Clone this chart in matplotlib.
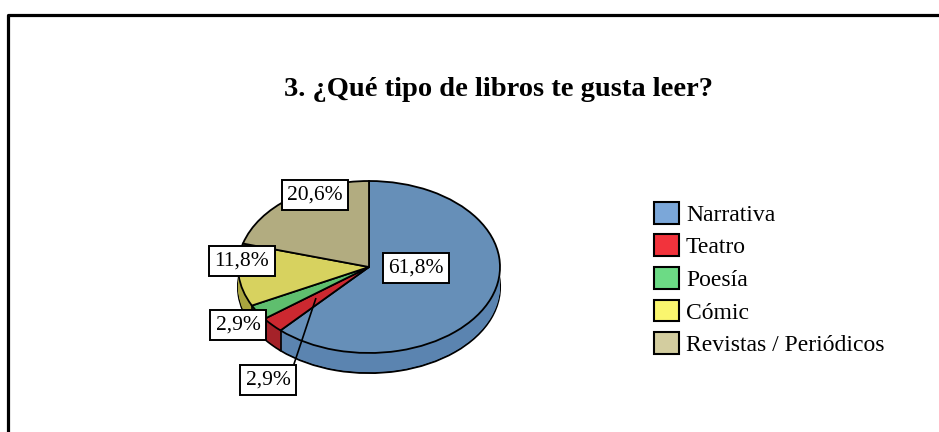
import numpy as np
import matplotlib.pyplot as plt
from matplotlib.lines import Line2D
from matplotlib.patches import Patch

plt.rcParams['font.family'] = ['Liberation Serif', 'DejaVu Serif']

categories = ['Narrativa', 'Teatro', 'Poesía', 'Cómic', 'Revistas / Periódicos']
values = [61.8, 2.9, 2.9, 11.8, 20.6]
labels = ['61,8%', '2,9%', '2,9%', '11,8%', '20,6%']

top_colors = ['#668FB8', '#CC2830', '#5FBE6E', '#D7D25F', '#B2AC80']
side_colors = ['#5B84B0', '#A52229', '#43984F', '#A9A43F', '#8E8964']
legend_colors = ['#7BA7D9', '#F2333C', '#6CDB85', '#FAF66E', '#D3CD9F']

W, H = 939, 432
cx, cy, rx, ry = 369, 267, 131, 86   # pie centre / radii in pixels
depth = 20 / ry


def px(x, y):
    # pixel position (top-left origin) -> pie data coords
    return (x - cx) / rx, (cy - y) / ry


fig = plt.figure(figsize=(W / 100, H / 100), dpi=100)
ax = fig.add_axes([0, 0, 1, 1])

# 3d side: stacked pies shifted down
ax.pie(values, colors=side_colors, startangle=90, counterclock=False,
       center=(0, -depth), wedgeprops=dict(edgecolor='black', linewidth=1.5))
for d in np.linspace(depth, 0, 25)[1:]:
    ax.pie(values, colors=side_colors, startangle=90, counterclock=False,
           center=(0, -d), wedgeprops=dict(linewidth=0))

# vertical edges of the side at slice borders
ang = np.deg2rad(90 - 360 * np.cumsum(values) / 100)
for a in ang:
    if np.sin(a) < 0:
        ax.plot([np.cos(a)] * 2, [np.sin(a), np.sin(a) - depth], color='black', lw=1.2)

# top face
ax.pie(values, colors=top_colors, startangle=90, counterclock=False,
       wedgeprops=dict(edgecolor='black', linewidth=1.3))

ax.set_aspect('auto')
ax.set_xlim(-cx / rx, (W - cx) / rx)
ax.set_ylim(-(H - cy) / ry, cy / ry)
ax.axis('off')

# data labels
label_pos = [(416, 268), (268, 380), (238, 325), (242, 261), (315, 195)]
box = dict(boxstyle='square,pad=0.25', fc='white', ec='black', lw=1.4)
for lab, (x, y) in zip(labels, label_pos):
    ax.text(*px(x, y), lab, ha='center', va='center', fontsize=15.5, bbox=box, zorder=10)

# leader line for Teatro
mid = np.deg2rad(90 - 360 * (values[0] + values[1] / 2) / 100)
ax.plot([px(293, 367)[0], 0.55 * np.cos(mid)], [px(293, 367)[1], 0.55 * np.sin(mid)],
        color='black', lw=1.2, zorder=9)

# title
fig.text(498 / W, 1 - 96 / H, '3. ¿Qué tipo de libros te gusta leer?',
         ha='center', va='baseline', fontsize=20.5, fontweight='bold')

# legend
handles = [Patch(facecolor=c, edgecolor='black', linewidth=1.5) for c in legend_colors]
fig.legend(handles, categories, loc='center left', bbox_to_anchor=(654 / W, 1 - 279 / H),
           frameon=False, fontsize=17, handlelength=1.05, handleheight=1.05,
           handletextpad=0.3, labelspacing=0.36, borderpad=0, borderaxespad=0)

# chart border (left and top only visible)
fig.add_artist(Line2D([8 / W, 8 / W, 1], [0, 1 - 14.5 / H, 1 - 14.5 / H],
                      color='black', lw=2.3, transform=fig.transFigure))

fig.savefig('out.png', dpi=100)
